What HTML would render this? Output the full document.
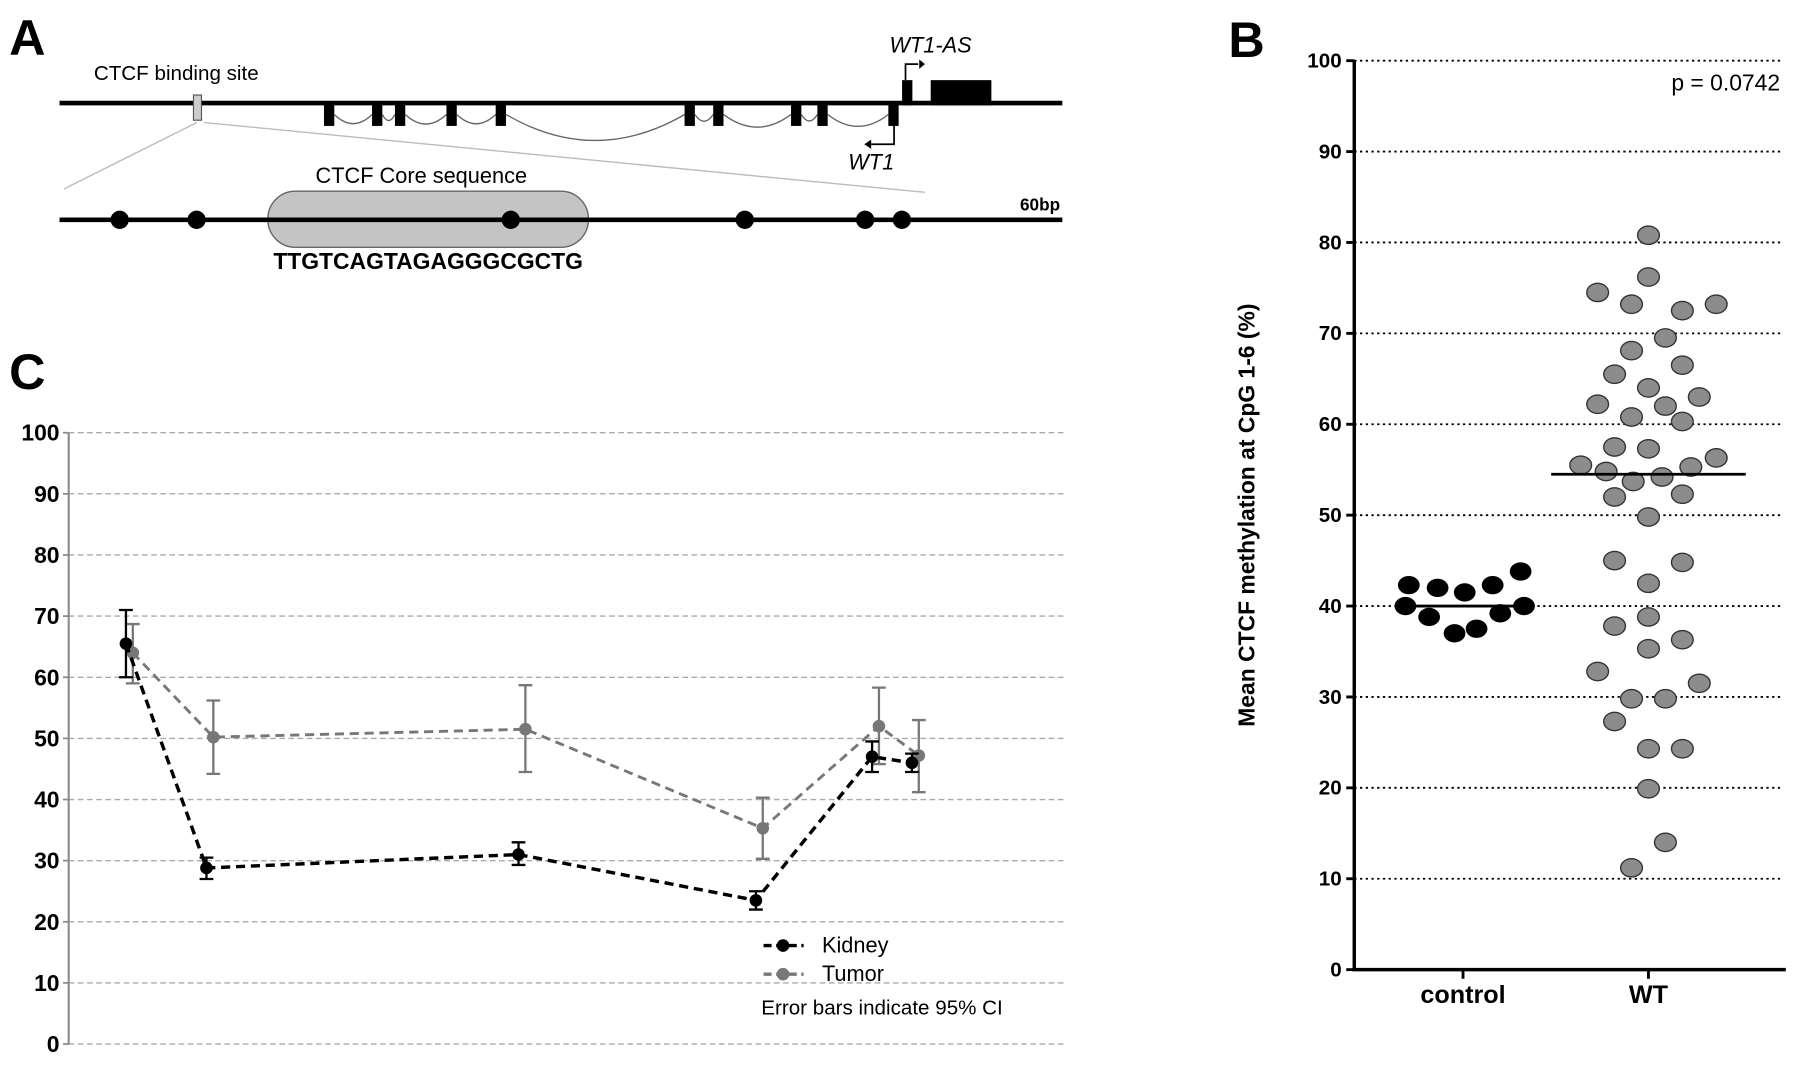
<!DOCTYPE html>
<html><head><meta charset="utf-8"><style>
html,body{margin:0;padding:0;background:#fff;}
svg{display:block;font-family:"Liberation Sans",Arial,sans-serif;}
</style></head><body>
<svg id="fig" width="1795" height="1069" viewBox="0 0 1568 933.8">
<g id="panelA">
<text x="8" y="48" font-size="44" font-weight="bold">A</text>
<text x="82" y="70" font-size="18">CTCF binding site</text>
<line x1="52" y1="90" x2="928" y2="90" stroke="#000" stroke-width="4"/>
<rect x="169" y="83" width="7" height="22" fill="#ccc" stroke="#555" stroke-width="1"/>
<line x1="172" y1="107" x2="56" y2="165" stroke="#bbb" stroke-width="1.2"/>
<line x1="178" y1="107" x2="808" y2="168" stroke="#bbb" stroke-width="1.2"/>
<g id="exons"></g>
<rect x="788" y="70" width="9" height="22" fill="#000"/>
<rect x="813" y="70" width="53" height="22" fill="#000"/>
<polyline points="791,70 791,56 802,56" fill="none" stroke="#000" stroke-width="1.5"/>
<polygon points="803,52 803,60 808,56" fill="#000"/>
<text x="777" y="46" font-size="19" font-style="italic">WT1-AS</text>
<polyline points="781,110 781,126 761,126" fill="none" stroke="#000" stroke-width="1.5"/>
<polygon points="761,122 761,130 755,126" fill="#000"/>
<text x="741" y="148" font-size="19" font-style="italic">WT1</text>
<text x="368" y="160" font-size="19" text-anchor="middle">CTCF Core sequence</text>
<rect x="234" y="167" width="280" height="49" rx="24" fill="#c4c4c4" stroke="#666" stroke-width="1.2"/>
<line x1="52" y1="192" x2="928" y2="192" stroke="#000" stroke-width="4"/>
<g id="cpgdots"></g>
<text x="926" y="184" font-size="15" font-weight="bold" text-anchor="end">60bp</text>
<text x="374" y="235" font-size="20" font-weight="bold" text-anchor="middle">TTGTCAGTAGAGGGCGCTG</text>
</g>
<g id="panelB"></g>
<g id="panelC"></g>
</svg>
<script>
const NS="http://www.w3.org/2000/svg";
function mk(tag,attrs,parent,txt){const e=document.createElementNS(NS,tag);for(const k in attrs)e.setAttribute(k,attrs[k]);if(txt!==undefined)e.textContent=txt;parent.appendChild(e);return e;}

// Panel A data
const exonX=[283,325,345,390,433,598,623,691,714,776];
const cpgBp=[3.6,8.2,27,41,48.2,50.4];
const exG=document.getElementById('exons');
exonX.forEach((x,i)=>{
  const r=mk('rect',{x:x,y:90,width:9,height:20,fill:'#000'},exG);
  
  
  if(i<exonX.length-1){
    const x1=x+9,x2=exonX[i+1];const depth=Math.min(30,(x2-x1)*0.12+4);
    const p=mk('path',{d:`M${x1},100 Q${(x1+x2)/2},${100+depth*2} ${x2},100`,fill:'none',stroke:'#666','stroke-width':1.2},exG);
    
    
  }
});
const cg=document.getElementById('cpgdots');
const bpX=b=>52+b*(876/60);
cpgBp.forEach(b=>{
  const c=mk('circle',{cx:bpX(b),cy:192,r:8,fill:'#000'},cg);
  
  
});

// Panel B data
const bTicks=[0,10,20,30,40,50,60,70,80,90,100];
const bCategories=['control','WT'];
const controlVals=[42.3,42,41.5,42.3,43.8,40,38.8,37,37.5,39.2,40];
const controlCols=[-3.2,-1.5,0.1,1.75,3.4,-3.4,-2,-0.5,0.8,2.2,3.6];
const wtVals=[80.8,76.2,74.5,73.2,72.5,73.2,69.5,68.1,66.5,65.5,64,63,62.2,62,60.8,60.3,57.5,57.3,56.3,55.5,55.3,54.8,54.2,53.7,52.3,52,49.8,45,44.8,42.5,38.8,37.8,36.3,35.3,32.8,31.5,29.8,29.8,27.3,24.3,24.3,19.9,14,11.2];
const wtCols=[0,0,-3,-1,2,4,1,-1,2,-2,0,3,-3,1,-1,2,-2,0,4,-4,2.5,-2.5,0.8,-0.9,2,-2,0,-2,2,0,0,-2,2,0,-3,3,-1,1,-2,0,2,0,1,-1];
const bMeans=[40,54.5];
const B=document.getElementById('panelB');
const by=v=>847-v*7.94;
const bx=[1278,1440];
const colW=14.8;
mk('text',{x:1073,y:50,'font-size':44,'font-weight':'bold'},B,'B');
bTicks.forEach(t=>{
  if(t>0){const l=mk('line',{x1:1183,y1:by(t),x2:1555,y2:by(t),stroke:'#000','stroke-width':1.6,'stroke-dasharray':'2,3'},B);
  
  }
  const tk=mk('line',{x1:1176,y1:by(t),x2:1183,y2:by(t),stroke:'#000','stroke-width':2.5},B);
  
  
  const tx=mk('text',{x:1172,y:by(t)+6,'font-size':18,'font-weight':'bold','text-anchor':'end'},B,t);
  
  
});
const ax=mk('path',{d:`M1183,${by(100)} L1183,847 L1560,847`,fill:'none',stroke:'#000','stroke-width':3},B);


bCategories.forEach((c,i)=>{
  const tk=mk('line',{x1:bx[i],y1:847,x2:bx[i],y2:855,stroke:'#000','stroke-width':2.5},B);
  
  
  const t=mk('text',{x:bx[i],y:876,'font-size':22,'font-weight':'bold','text-anchor':'middle'},B,c);
  
  
});
const yt=mk('text',{x:0,y:0,'font-size':20,'font-weight':'bold','text-anchor':'middle',transform:'translate(1096,450) rotate(-90)'},B,'Mean CTCF methylation at CpG 1-6 (%)');


const pv=mk('text',{x:1555,y:79,'font-size':20,'text-anchor':'end'},B,'p = 0.0742');


controlVals.forEach((v,i)=>{
  const e=mk('ellipse',{cx:bx[0]+controlCols[i]*colW,cy:by(v),rx:9.5,ry:8,fill:'#000'},B);
  
  
});
wtVals.forEach((v,i)=>{
  const e=mk('ellipse',{cx:bx[1]+wtCols[i]*colW,cy:by(v),rx:9.5,ry:8,fill:'#8c8c8c',stroke:'#333','stroke-width':1.2},B);
  
  
});
[[1230,1331],[1355,1525]].forEach((r,i)=>{
  const l=mk('line',{x1:r[0],y1:by(bMeans[i]),x2:r[1],y2:by(bMeans[i]),stroke:'#000','stroke-width':2.5},B);
  
  
});

// Panel C data
const cTicks=[0,10,20,30,40,50,60,70,80,90,100];
const cpgPos=[3.45,8.3,27.1,41.4,48.4,50.8];
const kidneyMean=[65.5,28.8,31,23.5,47,46];
const kidneyLo=[60,27,29.3,22,44.5,44.5];
const kidneyHi=[71,30.5,33,25,49.5,47.5];
const tumorMean=[64,50.2,51.5,35.3,52,47.2];
const tumorLo=[59,44.2,44.5,30.3,45.8,41.2];
const tumorHi=[68.7,56.2,58.7,40.3,58.3,53];
const C=document.getElementById('panelC');
const cy=v=>912-v*5.34;
const cx=b=>60+b*14.5;
mk('text',{x:8,y:340,'font-size':44,'font-weight':'bold'},C,'C');
cTicks.forEach(t=>{
  const l=mk('line',{x1:60,y1:cy(t),x2:930,y2:cy(t),stroke:'#aaa','stroke-width':1.2,'stroke-dasharray':'5,3'},C);
  
  
  const tk=mk('line',{x1:55,y1:cy(t),x2:60,y2:cy(t),stroke:'#888','stroke-width':1.5},C);
  
  
  const tx=mk('text',{x:52,y:cy(t)+7,'font-size':20,'font-weight':'bold','text-anchor':'end'},C,t);
  
  
});
const cax=mk('line',{x1:60,y1:cy(100),x2:60,y2:cy(0),stroke:'#888','stroke-width':1.8},C);


function series(mean,lo,hi,off,color,w,name){
  const pts=mean.map((v,i)=>`${cx(cpgPos[i])+off},${cy(v)}`).join(' ');
  const pl=mk('polyline',{points:pts,fill:'none',stroke:color,'stroke-width':w,'stroke-dasharray':'8,5'},C);
  
  
  mean.forEach((v,i)=>{
    const x=cx(cpgPos[i])+off;
    const eb=mk('path',{d:`M${x-6},${cy(hi[i])} H${x+6} M${x},${cy(hi[i])} V${cy(lo[i])} M${x-6},${cy(lo[i])} H${x+6}`,stroke:color,'stroke-width':2,fill:'none'},C);
    
    
    const c=mk('circle',{cx:x,cy:cy(v),r:5.5,fill:color},C);
    
    
  });
}
series(tumorMean,tumorLo,tumorHi,6,'#777',2.5,'tumor');
series(kidneyMean,kidneyLo,kidneyHi,0,'#000',3,'kidney');
[['Kidney','#000',826],['Tumor','#777',851]].forEach(([n,c,y])=>{
  const l=mk('line',{x1:667,y1:y,x2:702,y2:y,stroke:c,'stroke-width':3,'stroke-dasharray':'7,4'},C);
  
  
  const d=mk('circle',{cx:684,cy:y,r:5.5,fill:c},C);
  
  
  const t=mk('text',{x:718,y:y+6,'font-size':19},C,n);
  
  
});
const note=mk('text',{x:665,y:886,'font-size':18},C,'Error bars indicate 95% CI');


</script>
</body></html>
